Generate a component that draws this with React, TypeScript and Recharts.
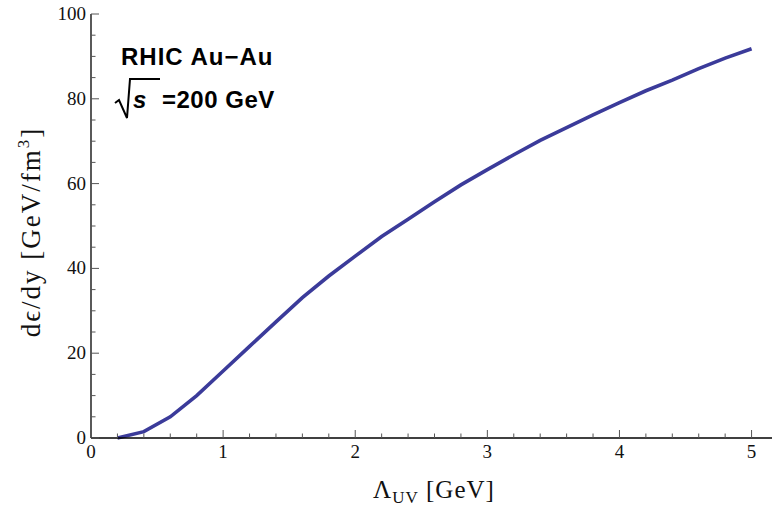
import { CartesianGrid, Line, LineChart, XAxis, YAxis } from "recharts"

// cutoff scale (GeV) and the resulting energy per rapidity (GeV/fm^3)
const lambdaUV = [0.2, 0.4, 0.6, 0.8, 1.0, 1.2, 1.4, 1.6, 1.8, 2.0, 2.2, 2.4, 2.6, 2.8, 3.0, 3.2, 3.4, 3.6, 3.8, 4.0, 4.2, 4.4, 4.6, 4.8, 5.0]
const dEdy = [0, 1.5, 5.0, 10.0, 15.8, 21.6, 27.4, 33.1, 38.2, 42.9, 47.5, 51.6, 55.7, 59.7, 63.3, 66.8, 70.2, 73.2, 76.2, 79.1, 81.9, 84.4, 87.1, 89.6, 91.8]

const xTicks = Array.from({ length: 27 }, (_, i) => Math.round(i * 2) / 10)
const yTicks = Array.from({ length: 21 }, (_, i) => i * 5)
const xLabels = [0, 1, 2, 3, 4, 5]
const yLabels = [0, 20, 40, 60, 80, 100]

const data = lambdaUV.map((x, i) => ({ x, y: dEdy[i] }))

const SERIF = "'Liberation Serif', 'DejaVu Serif', serif"
const SANS = "'Liberation Sans', Arial, sans-serif"
const TICK_COLOR = "#555"

const isMajorX = (v: number) => Math.abs(v - Math.round(v)) < 1e-6
const isMajorY = (v: number) => v % 20 === 0

// ticks point into the frame, Mathematica style
const BottomTick = ({ x, y, payload }: any) => {
  const major = isMajorX(payload.value)
  return (
    <g>
      <line x1={x} y1={y} x2={x} y2={y - (major ? 8 : 4.5)} stroke={TICK_COLOR} strokeWidth={1} />
      {major && xLabels.includes(Math.round(payload.value)) && (
        <text x={x} y={y + 20} textAnchor="middle" fontFamily={SERIF} fontSize={19} fill="#111">
          {Math.round(payload.value)}
        </text>
      )}
    </g>
  )
}

const TopTick = ({ x, y, payload }: any) => {
  const major = isMajorX(payload.value)
  return <line x1={x} y1={y} x2={x} y2={y + (major ? 8 : 4.5)} stroke={TICK_COLOR} strokeWidth={1} />
}

const LeftTick = ({ x, y, payload }: any) => {
  const major = isMajorY(payload.value)
  return (
    <g>
      <line x1={x} y1={y} x2={x + (major ? 8 : 4.5)} y2={y} stroke={TICK_COLOR} strokeWidth={1} />
      {major && yLabels.includes(payload.value) && (
        <text x={x - 5} y={y + 6} textAnchor="end" fontFamily={SERIF} fontSize={19} fill="#111">
          {payload.value}
        </text>
      )}
    </g>
  )
}

const RightTick = ({ x, y, payload }: any) => {
  const major = isMajorY(payload.value)
  return <line x1={x} y1={y} x2={x - (major ? 8 : 4.5)} y2={y} stroke={TICK_COLOR} strokeWidth={1} />
}

export default function App() {
  return (
    <div
      style={{
        position: "fixed",
        left: 0,
        top: 0,
        width: 772,
        height: 508,
        overflow: "hidden",
        background: "#fff",
      }}
    >
      <LineChart width={800} height={508} data={data} margin={{ top: 14, right: 0, bottom: 0, left: 0 }}>
        <CartesianGrid stroke="none" />
        <XAxis
          xAxisId="b"
          dataKey="x"
          type="number"
          domain={[0, 5.2]}
          ticks={xTicks}
          interval={0}
          height={70}
          tickSize={0}
          tickMargin={0}
          tick={<BottomTick />}
          axisLine={{ stroke: "#000", strokeWidth: 1.3 }}
        />
        <XAxis
          xAxisId="t"
          orientation="top"
          dataKey="x"
          type="number"
          domain={[0, 5.2]}
          ticks={xTicks}
          interval={0}
          height={0}
          tickSize={0}
          tickMargin={0}
          tick={<TopTick />}
          axisLine={{ stroke: "#444", strokeWidth: 1.3 }}
        />
        <YAxis
          yAxisId="l"
          type="number"
          domain={[0, 100]}
          ticks={yTicks}
          interval={0}
          width={91}
          tickSize={0}
          tickMargin={0}
          tick={<LeftTick />}
          axisLine={{ stroke: "#000", strokeWidth: 1.3 }}
        />
        <YAxis
          yAxisId="r"
          orientation="right"
          type="number"
          domain={[0, 100]}
          ticks={yTicks}
          interval={0}
          width={22}
          tickSize={0}
          tickMargin={0}
          tick={<RightTick />}
          axisLine={{ stroke: "#444", strokeWidth: 1.3 }}
        />
        <Line
          xAxisId="b"
          yAxisId="l"
          type="linear"
          dataKey="y"
          stroke="#3b3b9a"
          strokeWidth={3.6}
          dot={false}
          isAnimationActive={false}
        />
      </LineChart>

      {/* axis titles and the collision label */}
      <svg width={772} height={508} style={{ position: "absolute", left: 0, top: 0, pointerEvents: "none" }}>
        <text x={434} y={498} textAnchor="middle" fontFamily={SERIF} fontSize={25} letterSpacing={1} fill="#111">
          Λ<tspan fontSize={17} dy={5}>UV</tspan>
          <tspan dy={-5}> [GeV]</tspan>
        </text>
        <text
          x={0}
          y={0}
          transform="translate(40 232) rotate(-90)"
          textAnchor="middle"
          fontFamily={SERIF}
          fontSize={27}
          letterSpacing={2}
          fill="#111"
        >
          dϵ/dy [GeV/fm<tspan fontSize={17} dy={-11}>3</tspan>
          <tspan dy={11}>]</tspan>
        </text>

        <text x={121} y={65} fontFamily={SANS} fontWeight="bold" fontSize={24} letterSpacing={1} fill="#000">
          RHIC Au−Au
        </text>
        <path d="M115 103 L119 100 L127 118 L130 79 L160 79" fill="none" stroke="#000" strokeWidth={2} />
        <text x={133} y={108} fontFamily={SANS} fontWeight="bold" fontStyle="italic" fontSize={24} fill="#000">
          s
        </text>
        <text x={162} y={108} fontFamily={SANS} fontWeight="bold" fontSize={24} letterSpacing={0.5} fill="#000">
          =200 GeV
        </text>
      </svg>
    </div>
  )
}
